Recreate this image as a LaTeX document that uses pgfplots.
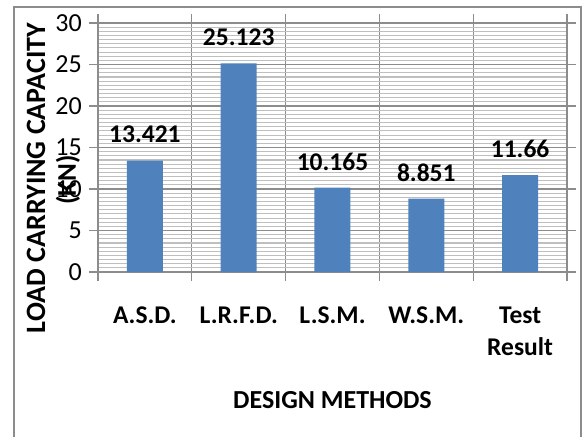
\documentclass[border=0pt]{standalone}
\usepackage{pgfplots}
\pgfplotsset{compat=1.18}
\usepackage{fontspec}
\setmainfont{Carlito}
\definecolor{barblue}{HTML}{4F81BD}
\definecolor{majgrid}{HTML}{8C8C8C}
\definecolor{mingrid}{HTML}{BFBFBF}
\definecolor{framegray}{HTML}{8C8C8C}
\newcommand\tl[1]{\fontsize{26}{29}\selectfont #1}
\begin{document}
\fontsize{24}{29}\selectfont
\begin{tikzpicture}
\useasboundingbox (-98pt,-165pt) rectangle (484pt,272pt);
\draw[framegray, line width=1.3pt] (-84pt,-170pt) -- (-84pt,265pt) -- (483pt,265pt) -- (483pt,-170pt);
\begin{axis}[
  at={(0pt,0pt)}, anchor=south west,
  scale only axis, width=469pt, height=249pt,
  xmin=0, xmax=5, ymin=0, ymax=30,
  ybar, bar width=36pt,
  xtick={0,1,2,3,4,5}, xticklabels={},
  xmajorgrids,
  extra x ticks={0.5,1.5,2.5,3.5,4.5},
  extra x tick labels={A.S.D.,L.R.F.D.,L.S.M.,W.S.M.,Test\\Result},
  extra x tick style={major tick length=0pt, grid=none,
     xticklabel style={yshift=-27pt, font=\fontsize{25.5}{32}\selectfont\bfseries, align=center}},
  ytick={0,5,...,30},
  yticklabels={\tl{0},\tl{5},\tl{10},\tl{15},\tl{20},\tl{25},\tl{30}},
  minor y tick num=9,
  ymajorgrids, yminorgrids,
  major grid style={majgrid, line width=1.2pt},
  minor grid style={mingrid, line width=1.1pt},
  tick align=outside,
  major tick length=9pt, minor tick length=0pt,
  tick style={majgrid, line width=1.2pt},
  axis line style={majgrid, line width=1.2pt},
  every y tick label/.append style={font=\fontsize{26}{29}\selectfont, xshift=1pt},
  /pgf/number format/assume math mode=true,
  nodes near coords,
  point meta=explicit symbolic,
  every node near coord/.append style={font=\fontsize{25.5}{29}\selectfont\bfseries, anchor=center, yshift=26pt, black},
]
\addplot[fill=barblue, draw=none] coordinates {
  (0.5,13.421) [13.421]
  (1.5,25.123) [25.123]
  (2.5,10.165) [10.165]
  (3.5,8.851) [8.851]
  (4.5,11.66) [11.66]
};
\end{axis}
\node[rotate=90, font=\fontsize{28}{29}\selectfont\bfseries] at (-62pt,94pt) {LOAD CARRYING CAPACITY};
\node[rotate=90, font=\fontsize{27}{29}\selectfont\bfseries] at (-30pt,92pt) {(KN)};
\node[font=\fontsize{26}{29}\selectfont\bfseries] at (234.5pt,-128pt) {DESIGN METHODS};
\end{tikzpicture}
\end{document}
